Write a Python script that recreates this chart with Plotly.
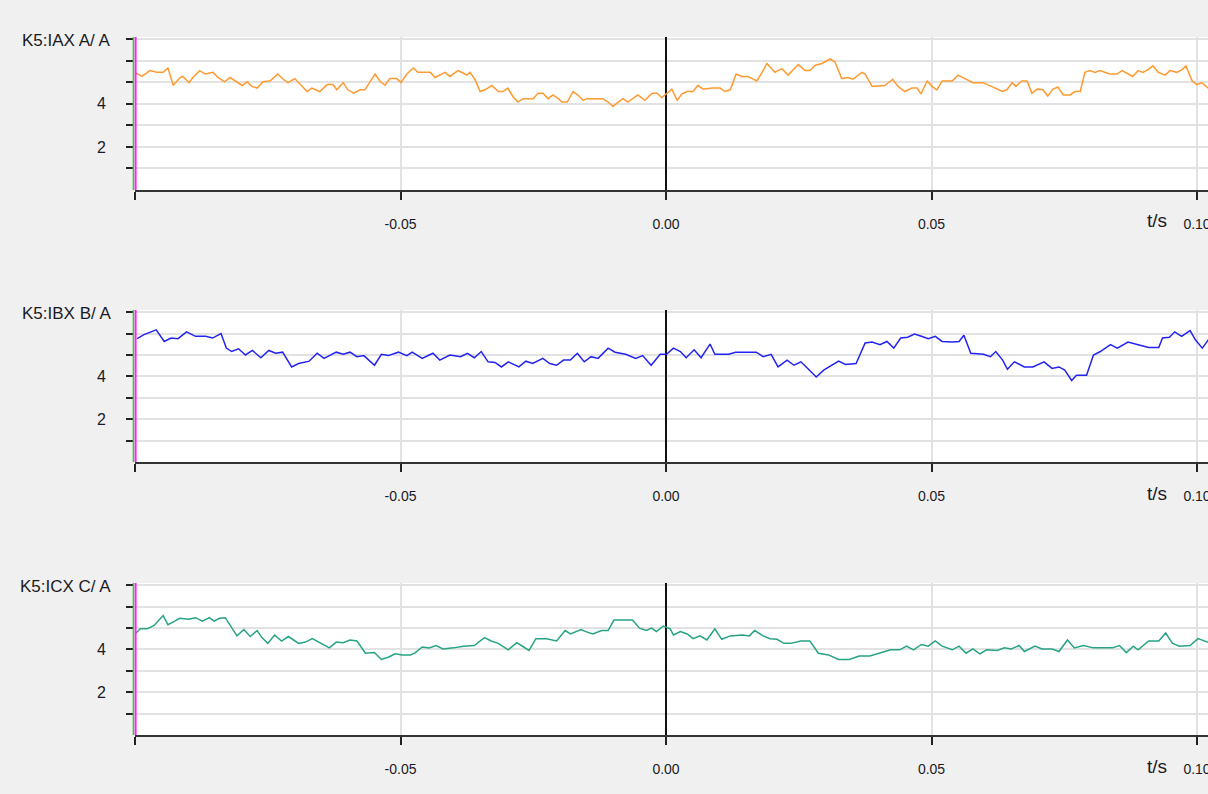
import plotly.graph_objects as go

# ---------------- data ----------------
t_a = [-0.1000, -0.0987, -0.0972, -0.0959, -0.0947, -0.0938, -0.0928, -0.0915, -0.0910, -0.0898,
       -0.0891, -0.0878, -0.0868, -0.0853, -0.0844, -0.0831, -0.0821, -0.0812, -0.0798, -0.0789,
       -0.0780, -0.0770, -0.0759, -0.0746, -0.0731, -0.0721, -0.0712, -0.0699, -0.0689, -0.0676,
       -0.0667, -0.0652, -0.0638, -0.0627, -0.0620, -0.0608, -0.0599, -0.0588, -0.0576, -0.0567,
       -0.0548, -0.0539, -0.0529, -0.0520, -0.0507, -0.0499, -0.0488, -0.0476, -0.0467, -0.0450,
       -0.0444, -0.0435, -0.0416, -0.0407, -0.0392, -0.0382, -0.0375, -0.0369, -0.0360, -0.0350,
       -0.0341, -0.0328, -0.0316, -0.0307, -0.0298, -0.0288, -0.0279, -0.0269, -0.0250, -0.0241,
       -0.0232, -0.0222, -0.0213, -0.0203, -0.0196, -0.0186, -0.0175, -0.0166, -0.0156, -0.0149,
       -0.0119, -0.0109, -0.0100, -0.0090, -0.0081, -0.0072, -0.0062, -0.0053, -0.0040, -0.0026,
       -0.0017, -0.0008, -0.0002, 0.0011, 0.0021, 0.0030, 0.0040, 0.0051, 0.0060, 0.0070,
       0.0087, 0.0102, 0.0111, 0.0121, 0.0132, 0.0143, 0.0154, 0.0162, 0.0171, 0.0181,
       0.0190, 0.0205, 0.0218, 0.0230, 0.0239, 0.0249, 0.0262, 0.0271, 0.0281, 0.0294,
       0.0309, 0.0318, 0.0331, 0.0343, 0.0352, 0.0369, 0.0375, 0.0388, 0.0394, 0.0412,
       0.0427, 0.0437, 0.0450, 0.0463, 0.0473, 0.0480, 0.0492, 0.0501, 0.0510, 0.0520,
       0.0539, 0.0550, 0.0563, 0.0578, 0.0597, 0.0610, 0.0620, 0.0633, 0.0642, 0.0652,
       0.0659, 0.0670, 0.0680, 0.0689, 0.0699, 0.0710, 0.0719, 0.0729, 0.0738, 0.0748,
       0.0761, 0.0770, 0.0780, 0.0789, 0.0798, 0.0808, 0.0817, 0.0836, 0.0849, 0.0859,
       0.0870, 0.0879, 0.0889, 0.0898, 0.0908, 0.0917, 0.0927, 0.0940, 0.0949, 0.0962,
       0.0972, 0.0979, 0.0991, 0.1000, 0.1009, 0.1021]
i_a = [5.46, 5.27, 5.54, 5.46, 5.46, 5.66, 4.86, 5.22, 5.27, 4.98,
       5.22, 5.54, 5.38, 5.46, 5.22, 5.02, 5.22, 5.06, 4.85, 5.02,
       4.81, 4.73, 5.02, 5.06, 5.38, 5.14, 4.98, 5.17, 4.89, 4.57,
       4.73, 4.57, 4.89, 4.89, 4.65, 4.98, 4.65, 4.49, 4.65, 4.65,
       5.38, 5.06, 4.86, 5.17, 5.17, 4.98, 5.38, 5.66, 5.46, 5.46,
       5.46, 5.22, 5.46, 5.27, 5.54, 5.43, 5.33, 5.46, 5.14, 4.57,
       4.65, 4.85, 4.57, 4.57, 4.73, 4.33, 4.08, 4.24, 4.24, 4.49,
       4.49, 4.24, 4.41, 4.24, 4.08, 4.08, 4.57, 4.41, 4.16, 4.24,
       4.24, 4.08, 3.87, 4.08, 4.24, 4.08, 4.24, 4.41, 4.16, 4.49,
       4.49, 4.29, 4.41, 4.68, 4.16, 4.46, 4.57, 4.57, 4.86, 4.68,
       4.73, 4.73, 4.57, 4.65, 5.38, 5.27, 5.27, 5.17, 5.06, 5.46,
       5.87, 5.46, 5.63, 5.33, 5.54, 5.82, 5.54, 5.54, 5.79, 5.87,
       6.08, 5.95, 5.17, 5.22, 5.14, 5.46, 5.38, 4.81, 4.81, 4.85,
       5.14, 4.81, 4.57, 4.73, 4.73, 4.46, 5.06, 4.81, 4.65, 5.06,
       5.06, 5.33, 5.17, 4.98, 4.98, 4.85, 4.73, 4.57, 4.65, 4.98,
       4.81, 5.06, 5.06, 4.49, 4.68, 4.65, 4.36, 4.68, 4.78, 4.41,
       4.41, 4.57, 4.57, 5.46, 5.54, 5.46, 5.54, 5.38, 5.38, 5.54,
       5.38, 5.27, 5.54, 5.46, 5.59, 5.76, 5.46, 5.33, 5.54, 5.46,
       5.59, 5.76, 5.06, 4.89, 4.98, 4.73]

t_b = [-0.0996, -0.0983, -0.0960, -0.0945, -0.0932, -0.0919, -0.0903, -0.0886, -0.0867, -0.0854,
       -0.0838, -0.0828, -0.0818, -0.0805, -0.0792, -0.0779, -0.0763, -0.0748, -0.0735, -0.0722,
       -0.0705, -0.0692, -0.0672, -0.0657, -0.0644, -0.0621, -0.0608, -0.0595, -0.0582, -0.0569,
       -0.0549, -0.0536, -0.0523, -0.0504, -0.0488, -0.0478, -0.0459, -0.0439, -0.0426, -0.0407,
       -0.0387, -0.0374, -0.0361, -0.0348, -0.0335, -0.0322, -0.0310, -0.0297, -0.0277, -0.0264,
       -0.0251, -0.0232, -0.0219, -0.0206, -0.0193, -0.0180, -0.0167, -0.0154, -0.0141, -0.0128,
       -0.0109, -0.0096, -0.0076, -0.0057, -0.0044, -0.0028, -0.0011, 0.0001, 0.0014, 0.0027,
       0.0038, 0.0053, 0.0066, 0.0083, 0.0092, 0.0118, 0.0131, 0.0151, 0.0170, 0.0183,
       0.0198, 0.0211, 0.0228, 0.0241, 0.0254, 0.0267, 0.0283, 0.0297, 0.0312, 0.0325,
       0.0338, 0.0358, 0.0375, 0.0388, 0.0403, 0.0416, 0.0429, 0.0442, 0.0455, 0.0468,
       0.0481, 0.0494, 0.0507, 0.0520, 0.0539, 0.0552, 0.0561, 0.0574, 0.0598, 0.0611,
       0.0621, 0.0634, 0.0643, 0.0656, 0.0675, 0.0691, 0.0712, 0.0727, 0.0740, 0.0751,
       0.0764, 0.0773, 0.0792, 0.0805, 0.0818, 0.0837, 0.0850, 0.0870, 0.0889, 0.0909,
       0.0928, 0.0935, 0.0948, 0.0958, 0.0971, 0.0987, 0.0997, 0.1010, 0.1023]
i_b = [5.76, 5.95, 6.17, 5.63, 5.79, 5.76, 6.08, 5.87, 5.87, 5.79,
       6.00, 5.32, 5.16, 5.29, 5.00, 5.21, 4.87, 5.21, 5.08, 5.13,
       4.44, 4.60, 4.71, 5.08, 4.84, 5.13, 5.03, 5.13, 4.92, 4.97,
       4.52, 5.03, 4.97, 5.13, 4.97, 5.13, 4.84, 5.08, 4.76, 5.00,
       4.92, 5.08, 4.87, 5.16, 4.68, 4.65, 4.44, 4.68, 4.44, 4.71,
       4.60, 4.84, 4.60, 4.52, 4.76, 4.76, 5.08, 4.68, 4.92, 4.84,
       5.32, 5.13, 5.03, 4.84, 4.97, 4.52, 5.03, 5.03, 5.32, 5.16,
       4.87, 5.24, 4.87, 5.51, 5.03, 5.03, 5.13, 5.13, 5.13, 4.92,
       5.03, 4.44, 4.76, 4.52, 4.68, 4.37, 3.97, 4.29, 4.52, 4.71,
       4.56, 4.60, 5.56, 5.60, 5.48, 5.63, 5.32, 5.79, 5.83, 5.98,
       5.87, 5.76, 5.87, 5.63, 5.60, 5.63, 5.92, 5.08, 5.03, 4.92,
       5.16, 4.76, 4.33, 4.68, 4.44, 4.44, 4.68, 4.37, 4.44, 4.29,
       3.81, 4.05, 4.05, 5.00, 5.16, 5.48, 5.32, 5.60, 5.48, 5.35,
       5.35, 5.79, 5.83, 6.08, 5.87, 6.14, 5.71, 5.32, 5.76]

t_c = [-0.1000, -0.0990, -0.0977, -0.0964, -0.0947, -0.0938, -0.0925, -0.0916, -0.0899, -0.0886,
       -0.0873, -0.0860, -0.0851, -0.0841, -0.0830, -0.0821, -0.0808, -0.0795, -0.0783, -0.0770,
       -0.0761, -0.0750, -0.0737, -0.0724, -0.0711, -0.0692, -0.0679, -0.0666, -0.0653, -0.0634,
       -0.0621, -0.0608, -0.0595, -0.0582, -0.0566, -0.0549, -0.0536, -0.0523, -0.0510, -0.0497,
       -0.0481, -0.0472, -0.0459, -0.0446, -0.0433, -0.0420, -0.0400, -0.0381, -0.0361, -0.0342,
       -0.0329, -0.0316, -0.0297, -0.0281, -0.0268, -0.0258, -0.0245, -0.0225, -0.0206, -0.0190,
       -0.0180, -0.0160, -0.0151, -0.0138, -0.0121, -0.0109, -0.0098, -0.0083, -0.0063, -0.0050,
       -0.0037, -0.0027, -0.0018, -0.0005, 0.0008, 0.0014, 0.0027, 0.0040, 0.0051, 0.0064,
       0.0077, 0.0092, 0.0105, 0.0121, 0.0144, 0.0157, 0.0167, 0.0183, 0.0196, 0.0209,
       0.0222, 0.0235, 0.0254, 0.0271, 0.0287, 0.0306, 0.0325, 0.0345, 0.0364, 0.0384,
       0.0403, 0.0423, 0.0440, 0.0453, 0.0466, 0.0481, 0.0494, 0.0507, 0.0520, 0.0539,
       0.0552, 0.0565, 0.0578, 0.0591, 0.0604, 0.0624, 0.0637, 0.0650, 0.0665, 0.0675,
       0.0695, 0.0708, 0.0727, 0.0740, 0.0756, 0.0769, 0.0786, 0.0805, 0.0825, 0.0841,
       0.0854, 0.0867, 0.0880, 0.0889, 0.0909, 0.0928, 0.0941, 0.0954, 0.0967, 0.0987,
       0.1002, 0.1023]
i_c = [4.72, 4.96, 4.96, 5.12, 5.58, 5.15, 5.32, 5.45, 5.41, 5.48,
       5.32, 5.48, 5.32, 5.45, 5.48, 5.12, 4.63, 4.93, 4.60, 4.88,
       4.55, 4.28, 4.67, 4.39, 4.60, 4.28, 4.34, 4.50, 4.31, 4.07,
       4.34, 4.31, 4.44, 4.39, 3.82, 3.85, 3.53, 3.63, 3.79, 3.74,
       3.74, 3.85, 4.11, 4.07, 4.18, 4.02, 4.07, 4.15, 4.18, 4.55,
       4.39, 4.28, 3.98, 4.31, 4.11, 3.95, 4.50, 4.50, 4.39, 4.88,
       4.72, 4.93, 4.83, 4.72, 4.88, 4.88, 5.37, 5.37, 5.37, 4.99,
       4.88, 4.99, 4.83, 5.09, 4.96, 4.67, 4.83, 4.72, 4.50, 4.63,
       4.44, 4.96, 4.47, 4.63, 4.67, 4.63, 4.88, 4.63, 4.50, 4.47,
       4.28, 4.28, 4.39, 4.39, 3.82, 3.74, 3.53, 3.53, 3.69, 3.69,
       3.82, 3.98, 3.98, 4.15, 3.98, 4.23, 4.15, 4.39, 4.15, 3.98,
       4.15, 3.82, 4.02, 3.79, 3.98, 3.95, 4.07, 4.02, 4.18, 3.90,
       4.15, 4.02, 4.02, 3.90, 4.44, 4.07, 4.18, 4.07, 4.07, 4.07,
       4.18, 3.85, 4.15, 3.98, 4.39, 4.39, 4.76, 4.28, 4.15, 4.18,
       4.50, 4.31]

labels = ["K5:IAX A/ A", "K5:IBX B/ A", "K5:ICX C/ A"]
colors = ["#ff9a30", "#2323f0", "#27a385"]
x_tickvals = [-0.10, -0.05, 0.00, 0.05, 0.10]
x_ticktext = ["", "-0.05", "0.00", "0.05", "0.10"]
y_tickvals = [1, 2, 3, 4, 5, 6, 7]
y_ticktext = ["", "2", "", "4", "", "", ""]

series = [(t_a, i_a), (t_b, i_b), (t_c, i_c)]

# ---------------- layout ----------------
W, H = 1208, 794
LEFT = 135
plot_w = W - LEFT
panels_px = [(37, 190), (310, 462), (583, 735)]
x_range = [-0.1, -0.1 + plot_w / 5310.0]

FONT = "Liberation Sans, Arial, sans-serif"
TXT = "#1a1a26"

fig = go.Figure()
shapes = []
annotations = []
for k, ((tt, vv), col, lab, (ptop, pbot)) in enumerate(zip(series, colors, labels, panels_px)):
    n = "" if k == 0 else str(k + 1)
    fig.add_trace(go.Scatter(x=tt, y=vv, mode="lines", line=dict(color=col, width=1.5),
                             xaxis="x" + n, yaxis="y" + n, showlegend=False, hoverinfo="skip"))
    dom = [1 - pbot / H, 1 - ptop / H]
    fig.layout["xaxis" + n] = dict(
        domain=[0, 1], anchor="y" + n, range=x_range, tickmode="array",
        tickvals=x_tickvals, ticktext=x_ticktext, showgrid=True, gridcolor="#e2e2e2",
        gridwidth=1.5, zeroline=True, zerolinecolor="#111111", zerolinewidth=1.5,
        showline=True, linecolor="#333333", linewidth=2, ticks="outside", ticklen=8,
        tickwidth=1.5, tickcolor="#222222", ticklabelstandoff=12, ticklabeloverflow="allow",
        tickfont=dict(family=FONT, size=14, color=TXT), fixedrange=True)
    fig.layout["yaxis" + n] = dict(
        domain=dom, anchor="x" + n, range=[0, 7.1], tickmode="array",
        tickvals=y_tickvals, ticktext=y_ticktext, showgrid=True, gridcolor="#e2e2e2",
        gridwidth=1.5, zeroline=False, showline=False, ticks="outside", ticklen=8,
        tickwidth=1.5, tickcolor="#222222", ticklabelstandoff=17,
        tickfont=dict(family=FONT, size=16, color=TXT), fixedrange=True)
    # double-coloured y axis line (green + magenta)
    shapes.append(dict(type="line", xref="paper", yref="paper", x0=-1.6 / plot_w, x1=-1.6 / plot_w,
                       y0=dom[0], y1=dom[1], line=dict(color="#22dd22", width=1.5), layer="above"))
    shapes.append(dict(type="line", xref="paper", yref="paper", x0=0.6 / plot_w, x1=0.6 / plot_w,
                       y0=dom[0], y1=dom[1], line=dict(color="#ff22ff", width=2), layer="above"))
    annotations.append(dict(text=lab, xref="paper", yref="paper", x=(113 - LEFT) / plot_w,
                            y=1 - (ptop + 3) / H, xanchor="right", yanchor="middle", showarrow=False,
                            font=dict(family=FONT, size=17, color=TXT)))
    annotations.append(dict(text="t/s", xref="paper", yref="paper", x=(1157 - LEFT) / plot_w,
                            y=1 - (pbot + 31) / H, xanchor="center", yanchor="middle", showarrow=False,
                            font=dict(family=FONT, size=19, color=TXT)))

fig.update_layout(width=W, height=H, margin=dict(l=LEFT, r=0, t=0, b=0, autoexpand=False),
                  paper_bgcolor="#f0f0f0", plot_bgcolor="#ffffff",
                  shapes=shapes, annotations=annotations)

fig.write_html("out.html")
